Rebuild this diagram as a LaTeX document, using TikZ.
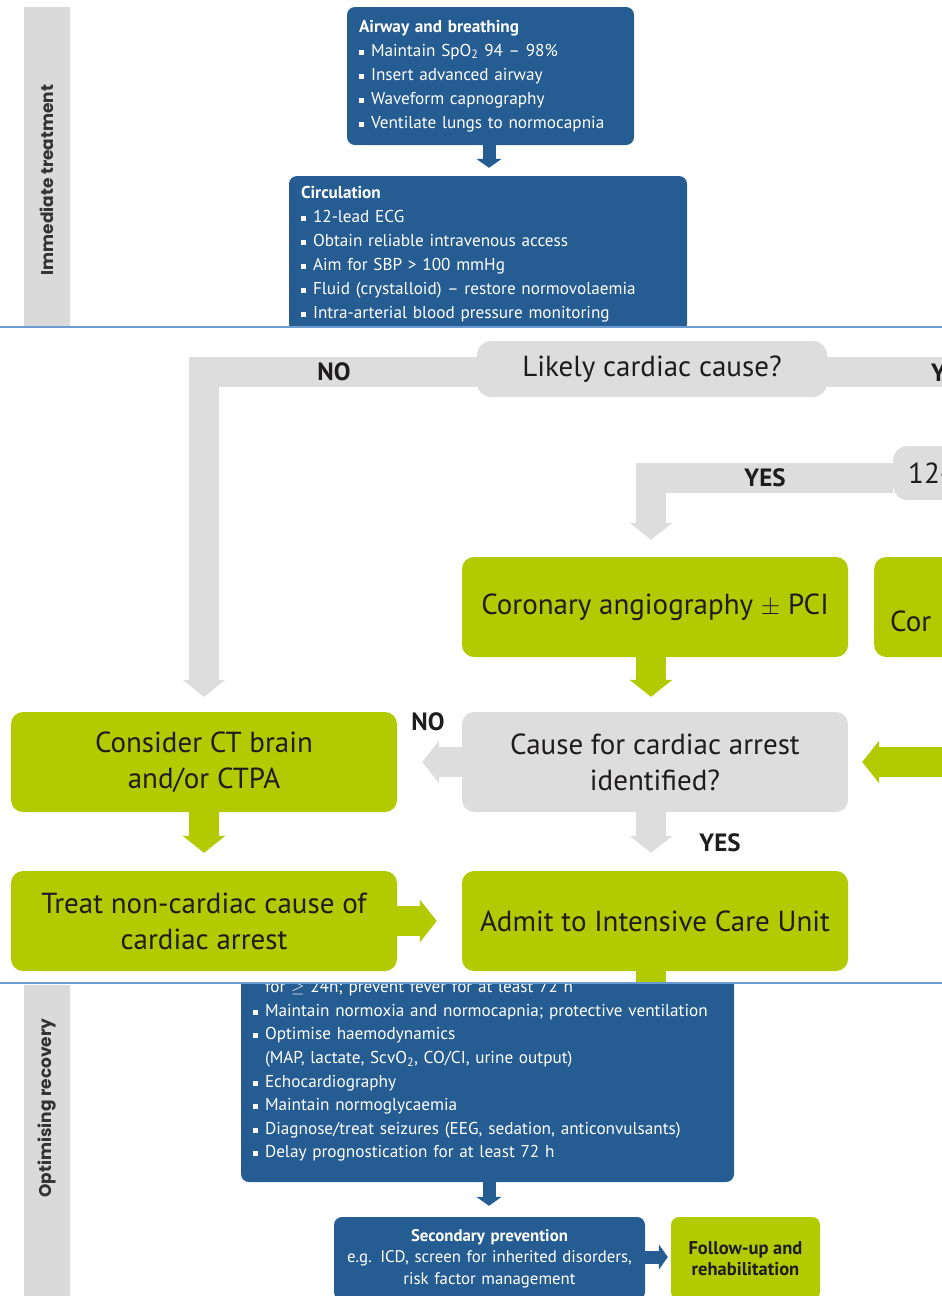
\documentclass[tikz,border=0pt]{standalone}
\usepackage{fontspec}
\setmainfont{PT Sans}
\newfontfamily\bandfont{Poppins}
\usetikzlibrary{arrows.meta}
\definecolor{boxblue}{HTML}{255C91}
\definecolor{boxgreen}{HTML}{B2CA00}
\definecolor{boxgray}{HTML}{DCDDDC}
\definecolor{bandgray}{HTML}{D9DAD9}
\definecolor{sepblue}{HTML}{6C9BD2}
\definecolor{inkdark}{HTML}{1E1C1D}
\newcommand{\bul}{\makebox[12pt][l]{\rule[1.5pt]{5pt}{5pt}}}
\tikzset{
%Define box styles
blue box/.style={fill=boxblue, rounded corners=8pt, text=white, align=left,
 inner xsep=12pt, inner ysep=0pt, font=\fontsize{17.2}{24}\selectfont},
green box/.style={fill=boxgreen, rounded corners=12pt, text=inkdark, align=center,
 inner sep=0pt, font=\fontsize{29}{36}\selectfont},
gray box/.style={green box, fill=boxgray},
%Define style for labels
answer/.style={text=inkdark, font=\fontsize{25}{26}\selectfont\bfseries},
band text/.style={rotate=90, text=black!80, font=\bandfont\fontsize{17}{18}\selectfont\bfseries},
%Define styles for the flow arrows
grayflow/.style={draw=boxgray, line width=30pt, -{Triangle[width=42pt,length=17pt]}},
greenflow/.style={grayflow, draw=boxgreen},
blueflow/.style={draw=boxblue, line width=13pt, -{Triangle[width=25pt,length=9pt]}},
separator/.style={draw=sepblue, line width=2.5pt}
}
\begin{document}
\begin{tikzpicture}[x=1pt, y=-1pt]
\useasboundingbox (0,0) rectangle (942,1296);

% Immediate treatment
\begin{scope}
\clip (0,0) rectangle (942,326);
\fill[bandgray] (24,7) rectangle (70,340);
\node[band text] (immed) at (47,180) {Immediate treatment};

\node[blue box, text width=263pt, minimum height=138pt] (airway) at (490.5,76)
 {\textbf{Airway and breathing}\\
  \bul Maintain SpO\textsubscript{2} 94 -- 98\%\\
  \bul Insert advanced airway\\
  \bul Waveform capnography\\
  \bul Ventilate lungs to normocapnia};

\node[blue box, text width=374pt, minimum height=156pt] (circ) at (488,254)
 {\textbf{Circulation}\\
  \bul 12-lead ECG\\
  \bul Obtain reliable intravenous access\\
  \bul Aim for SBP > 100 mmHg\\
  \bul Fluid (crystalloid) -- restore normovolaemia\\
  \bul Intra-arterial blood pressure monitoring};

\draw[blueflow, shorten >=8pt] ([xshift=-1.5pt]airway.south) -- ([xshift=-1.5pt]airway.south |- circ.north);
\end{scope}

% Cause of the arrest
\begin{scope}
\clip (0,328) rectangle (942,982);
\node[gray box, rounded corners=14pt, minimum width=350pt, minimum height=56pt] (likely) at (652,369)
 {Likely cardiac cause?};
\node[gray box, rounded corners=14pt, anchor=west, align=left, text width=270pt,
 inner xsep=15pt, minimum height=54pt] (ecg) at (893,473) {12-};

\node[green box, minimum width=386pt, minimum height=100pt] (angio) at (655,607)
 {Coronary angiography $\pm$ PCI};
\node[green box, anchor=west, minimum width=386pt, minimum height=100pt] (angiob) at (874,607) {};
\node[text=inkdark, font=\fontsize{29}{36}\selectfont, anchor=base west, inner sep=0pt] (angiotxt) at (890,631) {Cor};

\node[gray box, minimum width=386pt, minimum height=100pt] (cause) at (655,762)
 {Cause for cardiac arrest\\identified?};
\node[green box, minimum width=386pt, minimum height=100pt] (consider) at (204,762)
 {Consider CT brain\\and/or CTPA};
\node[green box, minimum width=386pt, minimum height=100pt] (treat) at (204,921)
 {Treat non-cardiac cause of\\cardiac arrest};
\node[green box, minimum width=386pt, minimum height=100pt] (admit) at (655,921)
 {Admit to Intensive Care Unit};

\coordinate (yesend) at (960,372);
\coordinate (rightin) at (960,762);
\coordinate (admitout) at (655,1000);

\draw[grayflow, shorten >=15pt] ([yshift=-3pt]likely.west) -| (consider.north);
\draw[grayflow, -] ([yshift=-3pt]likely.east) -- (yesend);
\draw[grayflow, shorten >=17pt] ([yshift=-5pt]ecg.west) -| ([xshift=-4pt]angio.north);
\draw[greenflow, shorten >=15pt] ([xshift=-4pt]angio.south) -- ([xshift=-4pt]cause.north);
\draw[grayflow, shorten >=25pt] (cause.west) -- (consider.east);
\draw[greenflow, shorten >=14pt] (rightin) -- (cause.east);
\draw[greenflow, shorten >=18pt] (consider.south) -- (treat.north);
\draw[grayflow, shorten >=18pt] ([xshift=-4pt]cause.south) -- ([xshift=-4pt]admit.north);
\draw[greenflow, shorten >=25pt] (treat.east) -- (admit.west);
\draw[greenflow, -] ([xshift=-4pt]admit.south) -- ([xshift=-4pt]admitout);

\node[answer] (no1) at (334,372) {NO};
\node[answer, anchor=west, inner sep=0pt] (yes1) at (931,373) {Y};
\node[answer] (yes2) at (765,478) {YES};
\node[answer] (no2) at (428,722) {NO};
\node[answer] (yes3) at (720,843) {YES};
\end{scope}

% Optimising recovery
\begin{scope}
\clip (0,984) rectangle (942,1296);
\fill[bandgray] (24,985) rectangle (70,1300);
\node[band text] (optim) at (47,1108) {Optimising recovery};

\node[blue box, text width=469pt, minimum height=222pt,
 font=\fontsize{17.2}{23.6}\selectfont] (icu) at (487.5,1071)
 {\hspace*{12pt}for $\geq$ 24h; prevent fever for at least 72 h\\
  \bul Maintain normoxia and normocapnia; protective ventilation\\
  \bul Optimise haemodynamics\\
  \hspace*{12pt}(MAP, lactate, ScvO\textsubscript{2}, CO/CI, urine output)\\
  \bul Echocardiography\\
  \bul Maintain normoglycaemia\\
  \bul Diagnose/treat seizures (EEG, sedation, anticonvulsants)\\
  \bul Delay prognostication for at least 72 h};

\node[blue box, align=center, text width=287pt, minimum height=83pt,
 font=\fontsize{16.8}{21.5}\selectfont] (second) at (489.5,1258.5)
 {\textbf{Secondary prevention}\\
  e.g. ICD, screen for inherited disorders,\\
  risk factor management};
\node[green box, rounded corners=8pt, minimum width=149pt, minimum height=83pt,
 font=\fontsize{18.5}{21}\selectfont\bfseries] (follow) at (745.5,1258.5)
 {Follow-up and\\rehabilitation};

\draw[blueflow, shorten >=11pt] ([xshift=1.5pt]icu.south) -- ([xshift=1.5pt]icu.south |- second.north);
\draw[blueflow, shorten >=3pt] ([yshift=1.5pt]second.east) -- ([yshift=1.5pt]follow.west);
\end{scope}

% Panel borders
\draw[separator] (0,327) -- (942,327);
\draw[separator] (0,983) -- (942,983);
\end{tikzpicture}
\end{document}
